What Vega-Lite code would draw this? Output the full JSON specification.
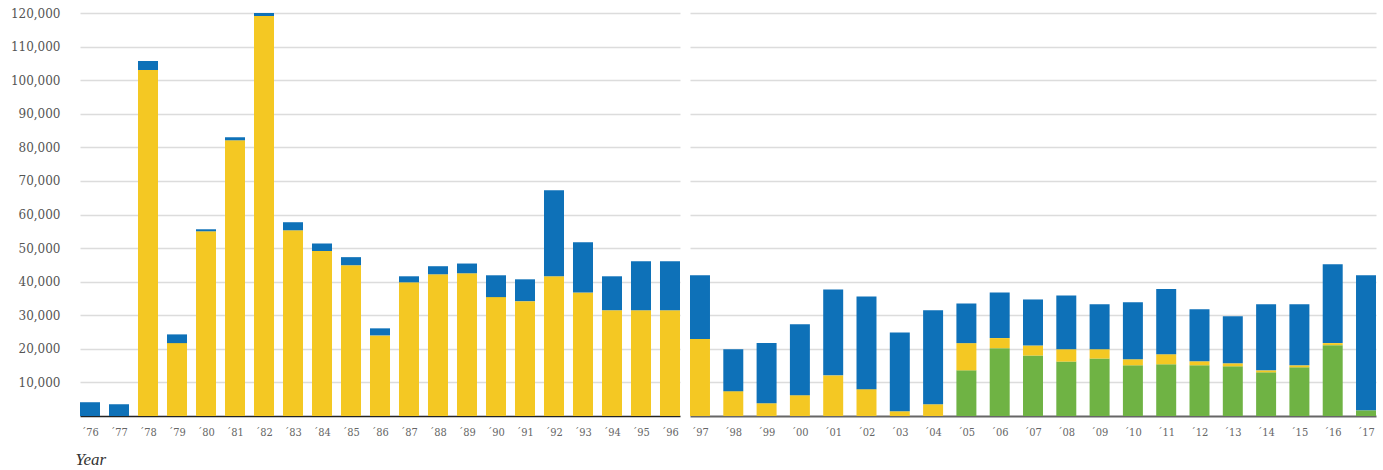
{
  "$schema": "https://vega.github.io/schema/vega-lite/v6.json",
  "padding": {"left": 10, "top": 7, "right": 5, "bottom": 5},
  "background": "white",
  "config": {
    "view": {"stroke": null},
    "axis": {"gridColor": "#dcdcdc", "gridWidth": 1.5},
    "concat": {"spacing": 10}
  },
  "data": {
    "values": [
      {"year": 1976, "cat": "blue", "value": 4100},
      {"year": 1977, "cat": "blue", "value": 3500},
      {"year": 1978, "cat": "yellow", "value": 103000}, {"year": 1978, "cat": "blue", "value": 2700},
      {"year": 1979, "cat": "yellow", "value": 21700}, {"year": 1979, "cat": "blue", "value": 2600},
      {"year": 1980, "cat": "yellow", "value": 55000}, {"year": 1980, "cat": "blue", "value": 600},
      {"year": 1981, "cat": "yellow", "value": 82100}, {"year": 1981, "cat": "blue", "value": 900},
      {"year": 1982, "cat": "yellow", "value": 119100}, {"year": 1982, "cat": "blue", "value": 900},
      {"year": 1983, "cat": "yellow", "value": 55300}, {"year": 1983, "cat": "blue", "value": 2400},
      {"year": 1984, "cat": "yellow", "value": 49100}, {"year": 1984, "cat": "blue", "value": 2300},
      {"year": 1985, "cat": "yellow", "value": 44900}, {"year": 1985, "cat": "blue", "value": 2400},
      {"year": 1986, "cat": "yellow", "value": 24000}, {"year": 1986, "cat": "blue", "value": 2100},
      {"year": 1987, "cat": "yellow", "value": 39800}, {"year": 1987, "cat": "blue", "value": 1800},
      {"year": 1988, "cat": "yellow", "value": 42200}, {"year": 1988, "cat": "blue", "value": 2400},
      {"year": 1989, "cat": "yellow", "value": 42500}, {"year": 1989, "cat": "blue", "value": 2900},
      {"year": 1990, "cat": "yellow", "value": 35400}, {"year": 1990, "cat": "blue", "value": 6500},
      {"year": 1991, "cat": "yellow", "value": 34200}, {"year": 1991, "cat": "blue", "value": 6500},
      {"year": 1992, "cat": "yellow", "value": 41600}, {"year": 1992, "cat": "blue", "value": 25600},
      {"year": 1993, "cat": "yellow", "value": 36800}, {"year": 1993, "cat": "blue", "value": 14900},
      {"year": 1994, "cat": "yellow", "value": 31500}, {"year": 1994, "cat": "blue", "value": 10100},
      {"year": 1995, "cat": "yellow", "value": 31500}, {"year": 1995, "cat": "blue", "value": 14600},
      {"year": 1996, "cat": "yellow", "value": 31500}, {"year": 1996, "cat": "blue", "value": 14600},
      {"year": 1997, "cat": "yellow", "value": 22900}, {"year": 1997, "cat": "blue", "value": 19000},
      {"year": 1998, "cat": "yellow", "value": 7400}, {"year": 1998, "cat": "blue", "value": 12500},
      {"year": 1999, "cat": "yellow", "value": 3800}, {"year": 1999, "cat": "blue", "value": 17900},
      {"year": 2000, "cat": "yellow", "value": 6200}, {"year": 2000, "cat": "blue", "value": 21100},
      {"year": 2001, "cat": "yellow", "value": 12100}, {"year": 2001, "cat": "blue", "value": 25600},
      {"year": 2002, "cat": "yellow", "value": 8000}, {"year": 2002, "cat": "blue", "value": 27600},
      {"year": 2003, "cat": "yellow", "value": 1400}, {"year": 2003, "cat": "blue", "value": 23500},
      {"year": 2004, "cat": "yellow", "value": 3500}, {"year": 2004, "cat": "blue", "value": 28000},
      {"year": 2005, "cat": "green", "value": 13600}, {"year": 2005, "cat": "yellow", "value": 8100}, {"year": 2005, "cat": "blue", "value": 11800},
      {"year": 2006, "cat": "green", "value": 20200}, {"year": 2006, "cat": "yellow", "value": 3000}, {"year": 2006, "cat": "blue", "value": 13600},
      {"year": 2007, "cat": "green", "value": 18000}, {"year": 2007, "cat": "yellow", "value": 3000}, {"year": 2007, "cat": "blue", "value": 13700},
      {"year": 2008, "cat": "green", "value": 16200}, {"year": 2008, "cat": "yellow", "value": 3700}, {"year": 2008, "cat": "blue", "value": 16000},
      {"year": 2009, "cat": "green", "value": 17100}, {"year": 2009, "cat": "yellow", "value": 2800}, {"year": 2009, "cat": "blue", "value": 13400},
      {"year": 2010, "cat": "green", "value": 15100}, {"year": 2010, "cat": "yellow", "value": 1800}, {"year": 2010, "cat": "blue", "value": 17000},
      {"year": 2011, "cat": "green", "value": 15400}, {"year": 2011, "cat": "yellow", "value": 3000}, {"year": 2011, "cat": "blue", "value": 19400},
      {"year": 2012, "cat": "green", "value": 15100}, {"year": 2012, "cat": "yellow", "value": 1200}, {"year": 2012, "cat": "blue", "value": 15500},
      {"year": 2013, "cat": "green", "value": 14800}, {"year": 2013, "cat": "yellow", "value": 900}, {"year": 2013, "cat": "blue", "value": 14000},
      {"year": 2014, "cat": "green", "value": 13000}, {"year": 2014, "cat": "yellow", "value": 600}, {"year": 2014, "cat": "blue", "value": 19700},
      {"year": 2015, "cat": "green", "value": 14500}, {"year": 2015, "cat": "yellow", "value": 600}, {"year": 2015, "cat": "blue", "value": 18200},
      {"year": 2016, "cat": "green", "value": 21100}, {"year": 2016, "cat": "yellow", "value": 600}, {"year": 2016, "cat": "blue", "value": 23500},
      {"year": 2017, "cat": "green", "value": 1700}, {"year": 2017, "cat": "blue", "value": 40200}
    ]
  },
  "transform": [
    {"calculate": "datum.cat === 'green' ? 0 : datum.cat === 'yellow' ? 1 : 2", "as": "ord"}
  ],
  "hconcat": [
    {
      "width": 600,
      "height": 403,
      "transform": [{"filter": "datum.year <= 1996"}],
      "mark": {"type": "bar"},
      "encoding": {
        "x": {
          "field": "year", "type": "ordinal",
          "scale": {"paddingInner": 0.31, "paddingOuter": 0},
          "axis": {
            "title": "Year",
            "titleFont": "Liberation Serif", "titleFontStyle": "italic", "titleFontWeight": "normal",
            "titleFontSize": 17, "titleColor": "#333",
            "titleAnchor": "start", "titleAlign": "left", "titleX": -5, "titleY": 48, "titleBaseline": "alphabetic",
            "labelExpr": "'´' + substring(toString(datum.value), 2)",
            "labelAngle": 0, "labelFont": "DejaVu Serif Condensed", "labelFontSize": 11, "labelColor": "#666",
            "labelPadding": 10, "ticks": false,
            "domainColor": "#222", "domainWidth": 1.5
          }
        },
        "y": {
          "field": "value", "type": "quantitative", "stack": "zero",
          "scale": {"domain": [0, 120000], "nice": false},
          "axis": {
            "title": null,
            "values": [10000, 20000, 30000, 40000, 50000, 60000, 70000, 80000, 90000, 100000, 110000, 120000],
            "format": ",.0f", "ticks": false, "domain": false,
            "labelFont": "DejaVu Serif", "labelFontSize": 12, "labelColor": "#555", "labelPadding": 20
          }
        },
        "color": {
          "field": "cat", "type": "nominal",
          "scale": {"domain": ["green", "yellow", "blue"], "range": ["#6fb344", "#f4c823", "#0e71b8"]},
          "legend": null
        },
        "order": {"field": "ord", "type": "quantitative"}
      }
    },
    {
      "width": 686,
      "height": 403,
      "transform": [{"filter": "datum.year >= 1997"}],
      "mark": {"type": "bar"},
      "encoding": {
        "x": {
          "field": "year", "type": "ordinal",
          "scale": {"paddingInner": 0.4, "paddingOuter": 0},
          "axis": {
            "title": null,
            "labelExpr": "'´' + substring(toString(datum.value), 2)",
            "labelAngle": 0, "labelFont": "DejaVu Serif Condensed", "labelFontSize": 11, "labelColor": "#666",
            "labelPadding": 10, "ticks": false,
            "domainColor": "#666", "domainWidth": 2
          }
        },
        "y": {
          "field": "value", "type": "quantitative", "stack": "zero",
          "scale": {"domain": [0, 120000], "nice": false},
          "axis": {
            "title": null,
            "values": [10000, 20000, 30000, 40000, 50000, 60000, 70000, 80000, 90000, 100000, 110000, 120000],
            "labels": false, "ticks": false, "domain": false
          }
        },
        "color": {
          "field": "cat", "type": "nominal",
          "scale": {"domain": ["green", "yellow", "blue"], "range": ["#6fb344", "#f4c823", "#0e71b8"]},
          "legend": null
        },
        "order": {"field": "ord", "type": "quantitative"}
      }
    }
  ]
}
